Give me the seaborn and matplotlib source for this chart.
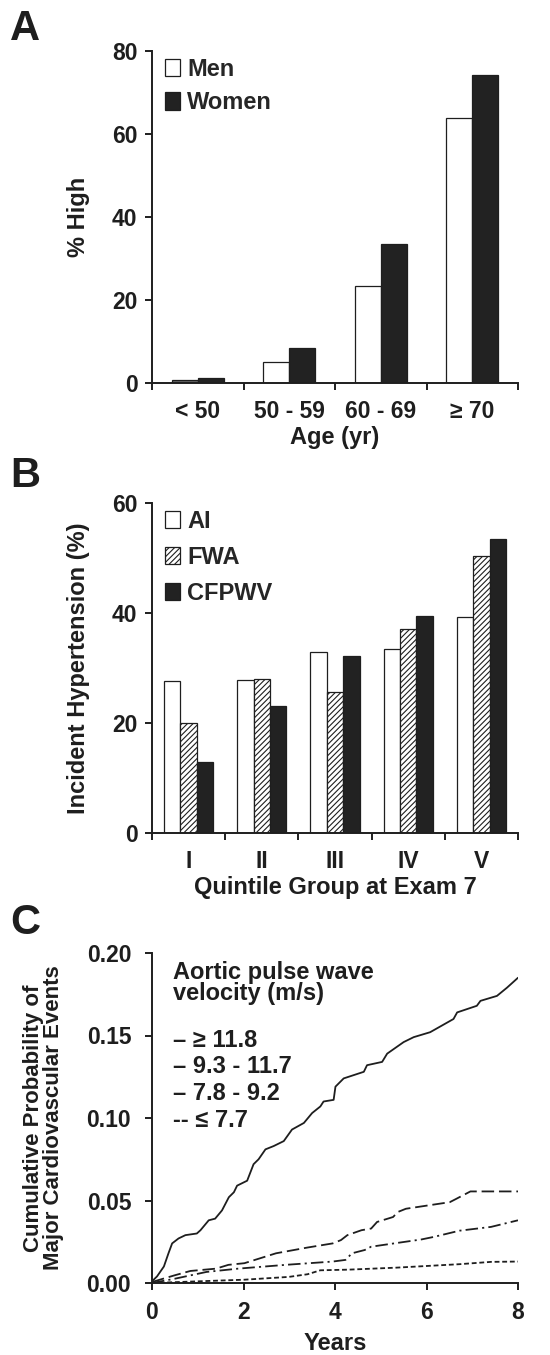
import matplotlib
matplotlib.use('Agg')
import pandas as pd
import matplotlib.pyplot as plt
from matplotlib.patches import Patch
import seaborn as sns

# Panel A: % high by age and sex
age_groups = ['< 50', '50 - 59', '60 - 69', '≥ 70']
men_pct = [0.8, 5.1, 23.3, 63.8]
women_pct = [1.1, 8.4, 33.4, 74.2]

# Panel B: incident hypertension by quintile
quintiles = ['I', 'II', 'III', 'IV', 'V']
ai_pct = [27.7, 27.9, 33.0, 33.4, 39.2]
fwa_pct = [20.0, 28.0, 25.7, 37.1, 50.3]
cfpwv_pct = [13.0, 23.1, 32.2, 39.5, 53.4]

# Panel C: cumulative probability curves by aortic PWV group
pwv_hi_years = [0, 0.11, 0.26, 0.36, 0.44, 0.58, 0.73, 0.98, 1.06, 1.24, 1.38, 1.53, 1.68, 1.79,
                1.86, 2.08, 2.22, 2.33, 2.48, 2.66, 2.88, 3.06, 3.32, 3.50, 3.68, 3.75, 3.97,
                4.01, 4.19, 4.63, 4.70, 5.03, 5.14, 5.50, 5.72, 6.08, 6.59, 6.67, 7.10, 7.18,
                7.54, 7.76, 8.0]
pwv_hi_prob = [0.001, 0.004, 0.010, 0.018, 0.024, 0.027, 0.029, 0.030, 0.032, 0.038, 0.039,
               0.044, 0.052, 0.055, 0.059, 0.062, 0.072, 0.075, 0.081, 0.083, 0.086, 0.093,
               0.097, 0.103, 0.107, 0.110, 0.111, 0.119, 0.124, 0.128, 0.132, 0.134, 0.139,
               0.146, 0.149, 0.152, 0.160, 0.164, 0.168, 0.171, 0.174, 0.179, 0.185]
pwv_q3_years = [0, 0.5, 0.84, 1.4, 1.67, 2.02, 2.71, 3.4, 3.95, 4.13, 4.27, 4.58, 4.79, 4.92,
                5.27, 5.37, 5.55, 6.51, 6.65, 6.96, 8.0]
pwv_q3_prob = [0.0006, 0.0047, 0.0073, 0.0087, 0.011, 0.012, 0.018, 0.0215, 0.024, 0.026,
               0.029, 0.032, 0.033, 0.037, 0.040, 0.043, 0.045, 0.049, 0.051, 0.0555, 0.0555]
pwv_q2_years = [0, 0.5, 1.19, 1.88, 2.92, 3.95, 4.23, 4.37, 4.65, 4.79, 5.89, 6.17, 6.72, 7.41, 8.0]
pwv_q2_prob = [0.0, 0.0026, 0.0067, 0.0087, 0.011, 0.013, 0.014, 0.018, 0.020, 0.022, 0.0264,
               0.028, 0.0317, 0.034, 0.038]
pwv_lo_years = [0, 1.19, 2.02, 2.99, 3.4, 3.68, 4.3, 5.34, 6.72, 7.41, 8.0]
pwv_lo_prob = [0.0, 0.0012, 0.002, 0.0037, 0.0053, 0.0077, 0.0081, 0.0093, 0.0114, 0.0128, 0.013]
pwv_labels = ['– ≥ 11.8', '– 9.3 - 11.7', '– 7.8 - 9.2', '-- ≤ 7.7']

sns.set_style('ticks')
plt.rcParams['font.family'] = ['Liberation Sans', 'DejaVu Sans']
plt.rcParams['font.weight'] = 'bold'
plt.rcParams['axes.labelweight'] = 'bold'
plt.rcParams['lines.scale_dashes'] = False
plt.rcParams['hatch.color'] = '#333333'
plt.rcParams['hatch.linewidth'] = 0.8

ink = '#1e1e1e'
W, H = 550, 1355
fig = plt.figure(figsize=(5.5, 13.55), dpi=100)


def box(left, top, right, bottom):
    return [left / W, 1 - bottom / H, (right - left) / W, (bottom - top) / H]


def style_axes(ax, ypad):
    sns.despine(ax=ax)
    for s in ['left', 'bottom']:
        ax.spines[s].set_linewidth(1.4)
        ax.spines[s].set_color(ink)
    ax.tick_params(axis='y', length=5, width=1.4, color=ink, labelsize=16.5, pad=ypad, labelcolor=ink)


legend_kw = dict(loc='upper left', bbox_to_anchor=(0.035, 0.98), frameon=False, fontsize=17,
                 handlelength=0.65, handleheight=0.75, handletextpad=0.3,
                 borderaxespad=0, borderpad=0)

# ---- A ----
axA = fig.add_axes(box(152, 51, 518, 383))
dfA = pd.DataFrame({'age': age_groups * 2,
                    'pct': men_pct + women_pct,
                    'sex': ['Men'] * 4 + ['Women'] * 4})
sns.barplot(data=dfA, x='age', y='pct', hue='sex', palette=['white', '#222222'],
            edgecolor=ink, linewidth=0.9, width=0.57, ax=axA)
axA.containers[0].patches[0].set_facecolor('#666666')
axA.set_ylim(0, 80)
axA.set_xlim(-0.5, 3.5)
axA.set_yticks([0, 20, 40, 60, 80])
axA.set_xticks(range(4), age_groups)
axA.set_xticks([-0.5, 0.5, 1.5, 2.5, 3.5], minor=True)
style_axes(axA, 5.5)
axA.tick_params(axis='x', which='major', length=0, labelsize=16.5, pad=12, labelcolor=ink)
axA.tick_params(axis='x', which='minor', length=5, width=1.4, color=ink)
axA.set_xlabel('Age (yr)', fontsize=17, color=ink)
axA.set_ylabel('% High', fontsize=17, color=ink)
axA.xaxis.set_label_coords(0.5, -0.13)
axA.yaxis.set_label_coords(-0.17, 0.5)
handlesA = [Patch(facecolor='white', edgecolor=ink, linewidth=0.9),
            Patch(facecolor='#222222', edgecolor=ink, linewidth=0.9)]
axA.legend(handlesA, ['Men', 'Women'], labelspacing=0.45, **legend_kw)

# ---- B ----
axB = fig.add_axes(box(152, 503, 518, 833))
dfB = pd.DataFrame({'q': quintiles * 3,
                    'pct': ai_pct + fwa_pct + cfpwv_pct,
                    'm': ['AI'] * 5 + ['FWA'] * 5 + ['CFPWV'] * 5})
sns.barplot(data=dfB, x='q', y='pct', hue='m', palette=['white', 'white', '#222222'],
            edgecolor=ink, linewidth=0.9, width=0.67, ax=axB)
for p in axB.containers[1].patches:
    p.set_hatch('//////')
axB.set_ylim(0, 60)
axB.set_xlim(-0.5, 4.5)
axB.set_yticks([0, 20, 40, 60])
axB.set_xticks(range(5), quintiles)
axB.set_xticks([-0.5, 0.5, 1.5, 2.5, 3.5, 4.5], minor=True)
style_axes(axB, 5.5)
axB.tick_params(axis='x', which='major', length=0, labelsize=16.5, pad=12, labelcolor=ink)
axB.tick_params(axis='x', which='minor', length=5, width=1.4, color=ink)
axB.set_xlabel('Quintile Group at Exam 7', fontsize=17, color=ink)
axB.set_ylabel('Incident Hypertension (%)', fontsize=17, color=ink)
axB.xaxis.set_label_coords(0.5, -0.13)
axB.yaxis.set_label_coords(-0.17, 0.5)
axB.legend(axB.containers, ['AI', 'FWA', 'CFPWV'], labelspacing=0.55, **legend_kw)

# ---- C ----
axC = fig.add_axes(box(152, 953, 518, 1283))
series = [(pwv_hi_years, pwv_hi_prob, '-'),
          (pwv_q3_years, pwv_q3_prob, (0, (9, 3.5))),
          (pwv_q2_years, pwv_q2_prob, (0, (9, 3, 1.5, 3))),
          (pwv_lo_years, pwv_lo_prob, (0, (3.5, 2)))]
for xs, ys, ls in series:
    sns.lineplot(x=xs, y=ys, color=ink, linewidth=1.3, linestyle=ls,
                 estimator=None, sort=False, ax=axC)
axC.set_xlim(0, 8)
axC.set_ylim(0, 0.2)
axC.set_xticks([0, 2, 4, 6, 8])
axC.set_yticks([0, 0.05, 0.10, 0.15, 0.20])
axC.yaxis.set_major_formatter(matplotlib.ticker.FormatStrFormatter('%.2f'))
style_axes(axC, 10)
axC.tick_params(axis='x', length=5, width=1.4, color=ink, labelsize=16.5, pad=8, labelcolor=ink)
axC.set_xlabel('Years', fontsize=17, color=ink)
axC.set_ylabel('Cumulative Probability of\nMajor Cardiovascular Events', fontsize=16,
               color=ink, linespacing=0.95)
axC.xaxis.set_label_coords(0.5, -0.148)
axC.yaxis.set_label_coords(-0.24, 0.5)
axC.text(0.057, 0.921, 'Aortic pulse wave', transform=axC.transAxes, fontsize=17,
         va='baseline', color=ink)
axC.text(0.057, 0.858, 'velocity (m/s)', transform=axC.transAxes, fontsize=17,
         va='baseline', color=ink)
for yb, lab in zip([0.715, 0.636, 0.555, 0.473], pwv_labels):
    axC.text(0.057, yb, lab, transform=axC.transAxes, fontsize=17, va='baseline', color=ink)

# panel letters
for lab, top in [('A', 9), ('B', 456), ('C', 903)]:
    fig.text(10 / W, 1 - top / H, lab, fontsize=30, fontweight='bold', va='top', color=ink)

fig.savefig('out.png', dpi=100)
